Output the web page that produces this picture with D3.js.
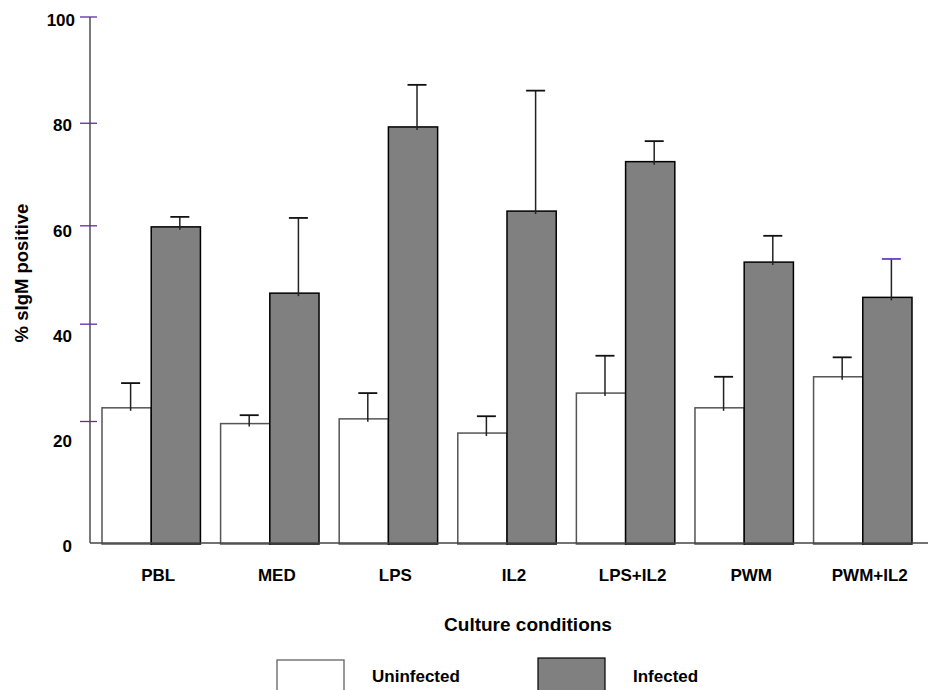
<!DOCTYPE html>
<html>
<head>
<meta charset="utf-8">
<script src="https://cdn.jsdelivr.net/npm/d3@7/dist/d3.min.js"></script>
<style>
  html, body { margin: 0; padding: 0; background: #fff; }
  svg { display: block; }
  text { font-family: "Liberation Sans", Arial, sans-serif; font-weight: bold; fill: #000; }
</style>
</head>
<body>
<svg id="chart" width="928" height="690"></svg>
<script>
// ---- data ----
const categories = ["PBL", "MED", "LPS", "IL2", "LPS+IL2", "PWM", "PWM+IL2"];
const seriesNames = ["Uninfected", "Infected"];
const uninfected = [25.7, 22.7, 23.6, 20.9, 28.5, 25.7, 31.6];
const uninfectedErrTop = [30.4, 24.3, 28.5, 24.1, 35.6, 31.6, 35.3];
const infected = [60.1, 47.5, 79.1, 63.1, 72.5, 53.4, 46.7];
const infectedErrTop = [62.0, 61.8, 87.1, 86.0, 76.4, 58.4, 54.0];
const yTickLabels = [0, 20, 40, 60, 80, 100];
const yTickMarks = [100, 79.8, 60.3, 41.6, 23.1];
const xTitle = "Culture conditions";
const yTitle = "% sIgM positive";

// ---- layout ----
const svg = d3.select("#chart");
const axisX = 90, baseY = 543, topY = 17;
const fills = ["#ffffff", "#808080"];
const strokes = ["#555555", "#000000"];

const y = d3.scaleLinear().domain([0, 100]).range([baseY, topY]);
const x = d3.scaleBand().domain(categories).range([102, 912]).paddingInner(0.17).paddingOuter(0);
const xs = d3.scaleBand().domain(seriesNames).range([0, x.bandwidth()]).padding(0);

const rows = categories.map((c, i) => ({
  cat: c,
  vals: [
    { s: seriesNames[0], v: uninfected[i], e: uninfectedErrTop[i] },
    { s: seriesNames[1], v: infected[i], e: infectedErrTop[i] }
  ]
}));

// bars
const g = svg.append("g");
const groups = g.selectAll("g.grp").data(rows).enter().append("g")
  .attr("transform", d => `translate(${x(d.cat)},0)`);

groups.selectAll("rect").data(d => d.vals).enter().append("rect")
  .attr("x", d => xs(d.s))
  .attr("y", d => y(d.v))
  .attr("width", xs.bandwidth())
  .attr("height", d => baseY + 1 - y(d.v))
  .attr("fill", (d, i) => fills[i])
  .attr("stroke", (d, i) => strokes[i])
  .attr("stroke-width", 1.5);

// error bars
const errOff = 4, capW = 19;
groups.selectAll("line.err").data(d => d.vals).enter().append("line")
  .attr("class", "err")
  .attr("x1", d => xs(d.s) + xs.bandwidth() / 2 + errOff)
  .attr("x2", d => xs(d.s) + xs.bandwidth() / 2 + errOff)
  .attr("y1", d => y(d.v) + 3)
  .attr("y2", d => y(d.e))
  .attr("stroke", "#222").attr("stroke-width", 1.5);
groups.selectAll("line.cap").data(d => d.vals).enter().append("line")
  .attr("class", "cap")
  .attr("x1", d => xs(d.s) + xs.bandwidth() / 2 + errOff - capW / 2)
  .attr("x2", d => xs(d.s) + xs.bandwidth() / 2 + errOff + capW / 2)
  .attr("y1", d => y(d.e))
  .attr("y2", d => y(d.e))
  .attr("stroke", (d, i) => (d.s === "Infected" && d.e === infectedErrTop[6] && d.v === infected[6]) ? "#6a40c0" : "#111")
  .attr("stroke-width", 1.8);

// axes lines
svg.append("line").attr("x1", axisX).attr("x2", axisX).attr("y1", y(100)).attr("y2", baseY)
  .attr("stroke", "#333").attr("stroke-width", 1.3);
svg.append("line").attr("x1", axisX).attr("x2", 928).attr("y1", baseY).attr("y2", baseY)
  .attr("stroke", "#444").attr("stroke-width", 1.3);

// purple tick marks
svg.selectAll("line.ytick").data(yTickMarks).enter().append("line")
  .attr("x1", axisX - 10).attr("x2", axisX + 7)
  .attr("y1", d => y(d)).attr("y2", d => y(d))
  .attr("stroke", "#5a2db0").attr("stroke-width", 1.3);

// y tick labels
svg.selectAll("text.ylab").data(yTickLabels).enter().append("text")
  .attr("x", d => d === 100 ? 75 : 72)
  .attr("y", d => y(d) + 3)
  .attr("dy", "0.36em")
  .attr("text-anchor", "end")
  .style("font-size", "17px")
  .text(d => d);

// x labels
svg.selectAll("text.xlab").data(categories).enter().append("text")
  .attr("x", d => x(d) + x.bandwidth() / 2 + 7)
  .attr("y", 581)
  .attr("text-anchor", "middle")
  .style("font-size", "17px")
  .text(d => d);

// titles
svg.append("text").attr("x", 528).attr("y", 631).attr("text-anchor", "middle")
  .style("font-size", "19px").text(xTitle);
svg.append("text").attr("transform", "translate(28,273) rotate(-90)")
  .attr("text-anchor", "middle").style("font-size", "18.5px").text(yTitle);

// legend
const legX = [277, 538], legTX = [372, 633];
const leg = svg.selectAll("g.leg").data(seriesNames).enter().append("g");
leg.append("rect")
  .attr("x", (d, i) => legX[i]).attr("y", (d, i) => i === 0 ? 660 : 658)
  .attr("width", 67).attr("height", 40)
  .attr("fill", (d, i) => fills[i]).attr("stroke", (d, i) => strokes[i]).attr("stroke-width", 1.2);
leg.append("text")
  .attr("x", (d, i) => legTX[i]).attr("y", 682)
  .style("font-size", "17px").text(d => d);
</script>
</body>
</html>
